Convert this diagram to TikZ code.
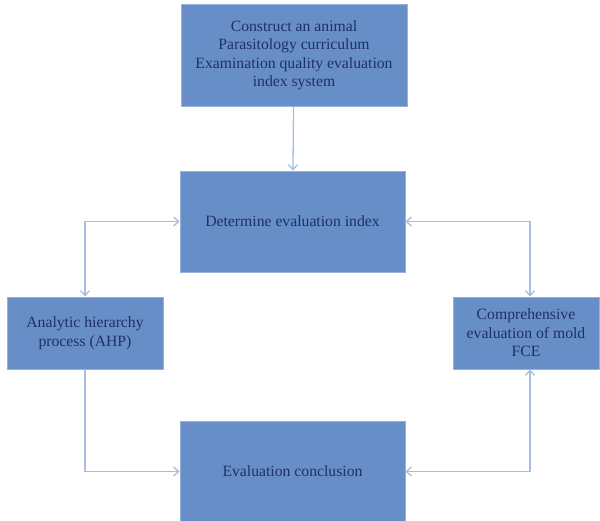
\documentclass[tikz,border=0pt]{standalone}
\usepackage{fontspec}
\setmainfont{Liberation Serif}
\usetikzlibrary{arrows.meta}
\definecolor{boxfill}{RGB}{104,142,200}
\definecolor{boxline}{RGB}{150,178,220}
\definecolor{boxtext}{RGB}{30,48,108}
\definecolor{conn}{RGB}{165,190,225}
\tikzset{
  stepbox/.style={draw=boxline, line width=0.8pt, fill=boxfill, text=boxtext,
    align=center, inner sep=2pt, font=\fontsize{15.7}{18.5}\selectfont},
  link/.style={draw=conn, line width=1.3pt, arrows={-Straight Barb[length=5pt,width=9pt]}},
  link2/.style={draw=conn, line width=1.3pt, arrows={Straight Barb[length=5pt,width=9pt]-Straight Barb[length=5pt,width=9pt]}}
}
\begin{document}
\begin{tikzpicture}[x=1pt,y=1pt]
\useasboundingbox (0,0) rectangle (600,-520);
\clip (0,0) rectangle (600,-520);
\node[stepbox, minimum width=226pt, minimum height=102pt] (top) at (294,-55)
  {Construct an animal\\Parasitology curriculum\\Examination quality evaluation\\index system};
\node[stepbox, minimum width=225pt, minimum height=101pt] (det) at (292.5,-221.5)
  {Determine evaluation index};
\node[stepbox, minimum width=156pt, minimum height=72pt] (ahp) at (85,-333)
  {Analytic hierarchy\\process (AHP)};
\node[stepbox, minimum width=146pt, minimum height=72pt] (fce) at (526,-333)
  {Comprehensive\\evaluation of mold\\FCE};
\node[stepbox, minimum width=225pt, minimum height=101pt] (con) at (292.5,-471.5)
  {Evaluation conclusion};
\draw[link] (top) -- (det);
\draw[link2] (det.west) -| (ahp.north);
\draw[link2] (det.east) -| ([xshift=4pt]fce.north);
\draw[link] (ahp.south) |- (con.west);
\draw[link2] (con.east) -| ([xshift=4pt]fce.south);
\end{tikzpicture}
\end{document}
